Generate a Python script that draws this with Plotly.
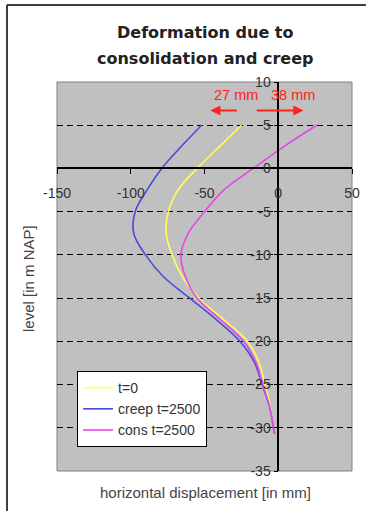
import plotly.graph_objects as go

levels = [5, 2.5, 0, -2.5, -5, -7.5, -10, -12.5, -15, -17.5, -20, -22.5, -25, -27.5, -30, -30.7]
t0 = [-25, -40, -55, -68, -74.5, -76, -72, -65, -54, -37, -21, -13, -9, -5.5, -3, -2.5]
creep = [-52, -66, -79, -89, -97, -98, -90, -78, -60, -42, -26, -16, -11, -6, -3.2, -2.5]
cons = [26, 3.5, -17, -37, -50, -61, -66, -63, -55, -39, -23.5, -15, -10.5, -6, -3.2, -2.5]

series_names = ["t=0", "creep t=2500", "cons t=2500"]
series_colors = ["#ffff55", "#4b4bd8", "#e846e8"]

x_ticks = [-150, -100, -50, 0, 50]
y_ticks = [10, 5, 0, -5, -10, -15, -20, -25, -30, -35]
grid_levels = [5, -5, -10, -15, -20, -25, -30]

title_lines = ["Deformation due to", "consolidation and creep"]

# annotation values (mm / m NAP)
label_texts = ["27 mm", "38 mm"]
label_x = [-28.5, 10]
label_y = 8.45
arrow_tail = [-27, -15.6]
arrow_head = [-46, 17]
arrow_y = 6.7

fig = go.Figure()
for name, xs, col in zip(series_names, [t0, creep, cons], series_colors):
    fig.add_trace(go.Scatter(x=xs, y=levels, mode="lines", name=name,
                             line=dict(color=col, width=1.6, shape="spline"),
                             yaxis="y"))

FONT = "Liberation Sans, Arial"
tickfont = dict(family=FONT, size=14, color="#333333")

fig.update_layout(
    width=366, height=511,
    margin=dict(l=57, r=14, t=82, b=40, autoexpand=False),
    paper_bgcolor="white",
    plot_bgcolor="#c0c0c0",
    showlegend=True,
    legend=dict(x=0.068, y=0.257, xanchor="left", yanchor="top",
                bgcolor="white", bordercolor="black", borderwidth=1,
                font=dict(family=FONT, size=14, color="#333333"),
                tracegroupgap=0, itemwidth=30, entrywidth=100),
    xaxis=dict(range=[-150, 50], anchor="free", position=35 / 45,
               showline=True, linecolor="black", linewidth=1.5,
               ticks="outside", ticklen=5, tickcolor="black", tickwidth=1,
               tickvals=x_ticks, ticktext=[str(v) for v in x_ticks],
               tickfont=tickfont, showgrid=False, zeroline=False,
               ticklabelstandoff=7, automargin=False),
    yaxis=dict(range=[-35, 10], anchor="free", position=150 / 200,
               showline=True, linecolor="black", linewidth=1.5,
               ticks="outside", ticklen=4, tickcolor="black", tickwidth=1,
               tickvals=y_ticks, ticktext=[str(v) for v in y_ticks],
               tickfont=tickfont, showgrid=False, zeroline=False, automargin=False),
    yaxis2=dict(range=[-35, 10], overlaying="y", anchor="free", position=0,
                tickvals=grid_levels, showticklabels=False, ticks="",
                showgrid=True, gridcolor="black", gridwidth=1.3,
                griddash="6px,4px", zeroline=False, showline=False, automargin=False),
)
# dummy trace to activate yaxis2 grid
fig.add_trace(go.Scatter(x=[None], y=[None], yaxis="y2", showlegend=False, hoverinfo="skip"))

# plot-area border
fig.add_shape(type="rect", xref="paper", yref="paper", x0=0, x1=1, y0=0, y1=1,
              line=dict(color="#808080", width=1), layer="below")
# outer frame (left & top edges visible)
fx0, fy1 = (7 - 57) / 295, (471 - 5) / 389
fig.add_shape(type="line", xref="paper", yref="paper", x0=fx0, x1=fx0, y0=(471 - 511) / 389, y1=fy1,
              line=dict(color="black", width=1.5))
fig.add_shape(type="line", xref="paper", yref="paper", x0=fx0, x1=(366 - 57) / 295, y0=fy1, y1=fy1,
              line=dict(color="black", width=1.5))

# title (two lines)
for txt, py in zip(title_lines, [33, 58]):
    fig.add_annotation(text=txt, xref="paper", yref="paper", x=(205 - 57) / 295,
                       y=(471 - py) / 389, xanchor="center", yanchor="middle", showarrow=False,
                       font=dict(family="DejaVu Sans", size=16, color="#222222", weight="bold"))

for txt, lx in zip(label_texts, label_x):
    fig.add_annotation(x=lx, y=label_y, xref="x", yref="y", text=txt, showarrow=False,
                       font=dict(family=FONT, size=14.5, color="#ff2020"))
for tail, head in zip(arrow_tail, arrow_head):
    fig.add_annotation(x=head, y=arrow_y, ax=tail, ay=arrow_y, xref="x", yref="y",
                       axref="x", ayref="y", text="", showarrow=True,
                       arrowhead=2, arrowsize=1, arrowwidth=2, arrowcolor="#ff2020")

fig.add_annotation(text="level [in m NAP]", xref="paper", yref="paper",
                   x=(28 - 57) / 295, y=(471 - 279) / 389, showarrow=False, textangle=-90,
                   xanchor="center", yanchor="middle",
                   font=dict(family=FONT, size=15, color="#444444"))
fig.add_annotation(text="horizontal displacement [in mm]", xref="paper", yref="paper",
                   x=(205 - 57) / 295, y=(471 - 493) / 389, showarrow=False,
                   xanchor="center", yanchor="middle",
                   font=dict(family=FONT, size=15, color="#444444"))

fig.write_html("out.html", config={"displayModeBar": False},
               post_script="document.body.style.margin='0';document.body.style.overflow='hidden';")
